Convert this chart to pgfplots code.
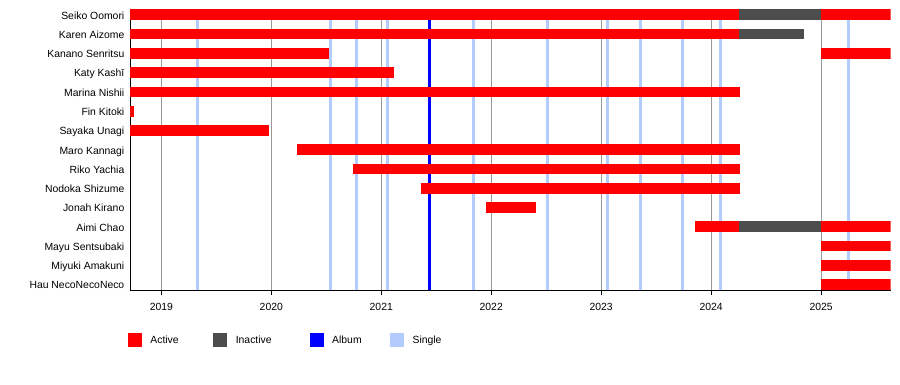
\documentclass[border=0pt]{standalone}
\usepackage{fontspec}
\setmainfont{Liberation Sans}
\usepackage{pgfplots}
\pgfplotsset{compat=1.18}
\definecolor{active}{HTML}{FF0000}
\definecolor{inactive}{HTML}{4D4D4D}
\definecolor{album}{HTML}{0000FF}
\definecolor{single}{HTML}{B3CCFF}
\definecolor{gridgray}{HTML}{999999}
\newcommand{\lab}{\fontsize{10.4}{12}\selectfont}
\begin{document}
\begin{tikzpicture}[x=1pt,y=1pt]
\path[use as bounding box] (0,0) rectangle (900,385);
\begin{axis}[
  at={(130pt,95pt)}, anchor=south west,
  scale only axis, width=760.7pt, height=280.5pt,
  xmin=2018.715, xmax=2025.633,
  ymin=-0.277, ymax=14.277,
  axis lines=left,
  axis line style={-, black, line width=0.9pt},
  tick align=outside, major tick length=5.5pt,
  xtick={2019,2020,2021,2022,2023,2024,2025},
  xticklabels={2019,2020,2021,2022,2023,2024,2025},
  xtick style={black, line width=0.8pt},
  xmajorgrids, major grid style={gridgray, line width=0.8pt},
  ytick={0,...,14},
  yticklabels={Hau NecoNecoNeco, Miyuki Amakuni, Mayu Sentsubaki, Aimi Chao, Jonah Kirano, Nodoka Shizume, Riko Yachia, Maro Kannagi, Sayaka Unagi, Fin Kitoki, Marina Nishii, Katy Kashī, Kanano Senritsu, Karen Aizome, Seiko Oomori},
  ytick style={draw=none},
  yticklabel style={font=\lab, inner sep=0pt, anchor=east, text height=8.6pt, text depth=0pt},
  xticklabel style={font=\lab, inner sep=0pt, text height=7.4pt, text depth=0pt, yshift=-7pt},
  /pgf/number format/assume math mode=true,
  legend columns=4,
  legend style={draw=none, fill=none, at={(axis description cs:0,0)}, anchor=west,
    xshift=-2pt, yshift=-50pt, inner sep=0pt, outer sep=0pt,
    nodes={inner sep=0pt, anchor=west, font=\lab},
    /tikz/every odd column/.append style={column sep=9pt},
    /tikz/every even column/.append style={column sep=0pt}},
]
% singles
\pgfplotsinvokeforeach{2019.327,2020.536,2020.773,2021.055,2021.836,2022.509,2023.061,2023.355,2023.736,2024.082,2025.245}{
  \addplot[single, line width=3pt, forget plot] coordinates {(#1,-1) (#1,15)};
}
% album
\addplot[album, line width=3pt, forget plot] coordinates {(2021.436,-1) (2021.436,15)};
% active periods
\pgfplotsset{bar/.style={line width=10.7pt, line cap=butt, forget plot}}
\addplot[active, bar] coordinates {(2018.7,14) (2024.249,14)};
\addplot[inactive, bar] coordinates {(2024.249,14) (2025.0,14)};
\addplot[active, bar] coordinates {(2025.0,14) (2025.7,14)};
\addplot[active, bar] coordinates {(2018.7,13) (2024.249,13)};
\addplot[inactive, bar] coordinates {(2024.249,13) (2024.843,13)};
\addplot[active, bar] coordinates {(2018.7,12) (2020.525,12)};
\addplot[active, bar] coordinates {(2025.0,12) (2025.7,12)};
\addplot[active, bar] coordinates {(2018.7,11) (2021.115,11)};
\addplot[active, bar] coordinates {(2018.7,10) (2024.258,10)};
\addplot[active, bar] coordinates {(2018.7,9) (2018.751,9)};
\addplot[active, bar] coordinates {(2018.7,8) (2019.979,8)};
\addplot[active, bar] coordinates {(2020.234,7) (2024.258,7)};
\addplot[active, bar] coordinates {(2020.743,6) (2024.258,6)};
\addplot[active, bar] coordinates {(2021.361,5) (2024.258,5)};
\addplot[active, bar] coordinates {(2021.952,4) (2022.406,4)};
\addplot[active, bar] coordinates {(2023.852,3) (2024.249,3)};
\addplot[inactive, bar] coordinates {(2024.249,3) (2025.0,3)};
\addplot[active, bar] coordinates {(2025.0,3) (2025.7,3)};
\addplot[active, bar] coordinates {(2025.0,2) (2025.7,2)};
\addplot[active, bar] coordinates {(2025.0,1) (2025.7,1)};
\addplot[active, bar] coordinates {(2025.0,0) (2025.7,0)};
% legend
\addlegendimage{legend image code/.code={\fill[active] (0pt,-6.5pt) rectangle (13pt,6.5pt);}}
\addlegendentry{\makebox[63pt][l]{Active}}
\addlegendimage{legend image code/.code={\fill[inactive] (0pt,-6.5pt) rectangle (13pt,6.5pt);}}
\addlegendentry{\makebox[74pt][l]{Inactive}}
\addlegendimage{legend image code/.code={\fill[album] (0pt,-6.5pt) rectangle (13pt,6.5pt);}}
\addlegendentry{\makebox[58pt][l]{Album}}
\addlegendimage{legend image code/.code={\fill[single] (0pt,-6.5pt) rectangle (13pt,6.5pt);}}
\addlegendentry{Single}
\end{axis}
\end{tikzpicture}
\end{document}
